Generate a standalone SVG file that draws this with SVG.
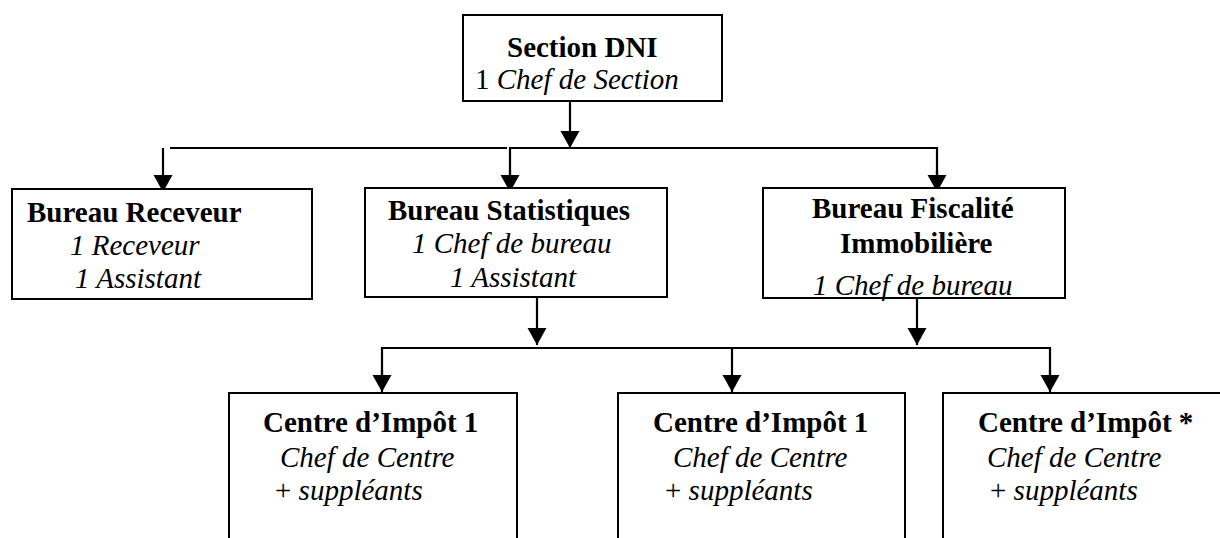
<svg xmlns="http://www.w3.org/2000/svg" width="1220" height="538" viewBox="0 0 1220 538">
<style>
.box{fill:#fff;stroke:#000;stroke-width:2}
.t{font-family:"Liberation Serif","Times New Roman",serif;font-size:29px;fill:#000}
.b{font-weight:bold}
.i{font-style:italic}
.c{fill:none;stroke:#000;stroke-width:2.2}
</style>
<defs>
<marker id="ah" markerUnits="userSpaceOnUse" markerWidth="18" markerHeight="21" refX="17" refY="10" orient="auto">
<path d="M0,0.5 L17,10 L0,19.5 z" fill="#000"/>
</marker>
</defs>
<rect width="1220" height="538" fill="#fff"/>
<g id="connectors">
<line class="c" x1="570" y1="101" x2="570" y2="148" marker-end="url(#ah)"/>
<line class="c" x1="170" y1="148" x2="507" y2="148"/>
<line class="c" x1="163" y1="148" x2="163" y2="192" marker-end="url(#ah)"/>
<polyline class="c" points="510,180 510,148 937,148 937,180"/>
<line class="c" x1="510" y1="170" x2="510" y2="192" marker-end="url(#ah)"/>
<line class="c" x1="937" y1="170" x2="937" y2="192" marker-end="url(#ah)"/>
<line class="c" x1="537" y1="297" x2="537" y2="345" marker-end="url(#ah)"/>
<line class="c" x1="917" y1="298" x2="917" y2="345" marker-end="url(#ah)"/>
<polyline class="c" points="382,380 382,348 1050,348 1050,380"/>
<line class="c" x1="382" y1="370" x2="382" y2="392" marker-end="url(#ah)"/>
<line class="c" x1="732" y1="348" x2="732" y2="392" marker-end="url(#ah)"/>
<line class="c" x1="1050" y1="370" x2="1050" y2="392" marker-end="url(#ah)"/>
</g>
<g id="section-dni">
<rect class="box" x="463" y="15" width="259" height="86"/>
<text class="t b" x="507" y="57">Section DNI</text>
<text class="t" x="475" y="89">1 <tspan class="i">Chef de Section</tspan></text>
</g>
<g id="bureau-receveur">
<rect class="box" x="12" y="189" width="300" height="110"/>
<text class="t b" x="27" y="222">Bureau Receveur</text>
<text class="t i" x="70" y="255">1 Receveur</text>
<text class="t i" x="75" y="288">1 Assistant</text>
</g>
<g id="bureau-statistiques">
<rect class="box" x="365" y="188" width="302" height="109"/>
<text class="t b" x="388" y="220">Bureau Statistiques</text>
<text class="t i" x="412" y="253">1 Chef de bureau</text>
<text class="t i" x="450" y="287">1 Assistant</text>
</g>
<g id="bureau-fiscalite">
<rect class="box" x="763" y="188" width="302" height="110"/>
<text class="t b" x="812" y="218">Bureau Fiscalité</text>
<text class="t b" x="840" y="253">Immobilière</text>
<text class="t i" x="813" y="295">1 Chef de bureau</text>
</g>
<g id="centre-1a">
<rect class="box" x="229" y="393" width="288" height="170"/>
<text class="t b" x="263" y="432">Centre d’Impôt 1</text>
<text class="t i" x="280" y="467">Chef de Centre</text>
<text class="t" x="275" y="500">+ <tspan class="i">suppléants</tspan></text>
</g>
<g id="centre-1b">
<rect class="box" x="618" y="393" width="287" height="170"/>
<text class="t b" x="653" y="432">Centre d’Impôt 1</text>
<text class="t i" x="673" y="467">Chef de Centre</text>
<text class="t" x="665" y="500">+ <tspan class="i">suppléants</tspan></text>
</g>
<g id="centre-star">
<rect class="box" x="943" y="393" width="300" height="170"/>
<text class="t b" x="978" y="432">Centre d’Impôt *</text>
<text class="t i" x="987" y="467">Chef de Centre</text>
<text class="t" x="990" y="500">+ <tspan class="i">suppléants</tspan></text>
</g>
</svg>
